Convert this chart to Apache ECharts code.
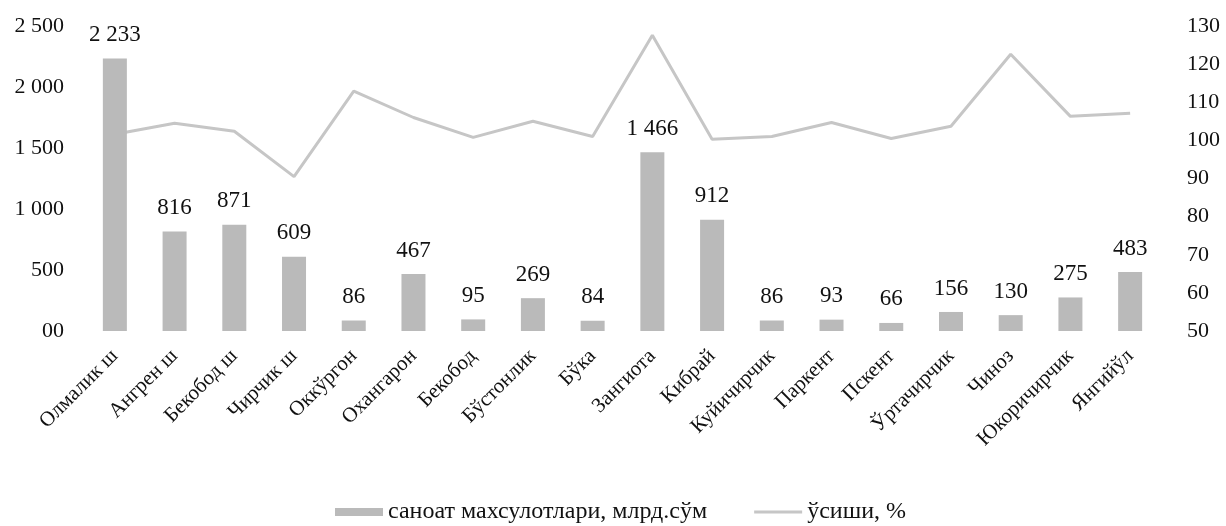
<!DOCTYPE html>
<html><head><meta charset="utf-8">
<script src="https://cdn.jsdelivr.net/npm/echarts@6/dist/echarts.min.js"></script>
<style>html,body{margin:0;padding:0;background:#fff}#c{width:1226px;height:526px}</style>
</head><body><div id="c"></div>
<script>
const categories = ['Олмалик ш','Ангрен ш','Бекобод ш','Чирчик ш','Оккўргон','Охангарон','Бекобод','Бўстонлик','Бўка','Зангиота','Кибрай','Куйичирчик','Паркент','Пскент','Ўртачирчик','Чиноз','Юкоричирчик','Янгийўл'];
const production = [2233,816,871,609,86,467,95,269,84,1466,912,86,93,66,156,130,275,483];
const growth = [101.6,104.5,102.4,90.5,112.9,106,100.8,105,101,127.6,100.3,101,104.7,100.5,103.7,122.6,106.3,107.1];
const seriesNames = ['саноат махсулотлари, млрд.сўм','ўсиши, %'];

const font = '"Liberation Serif","DejaVu Serif",serif';
const fmtNum = v => { if (v === 0) return '00'; const s = String(v); return s.length > 3 ? s.slice(0, s.length-3) + ' ' + s.slice(-3) : s; };

const chart = echarts.init(document.getElementById('c'));
chart.setOption({
  animation: false,
  textStyle: { fontFamily: font, color: '#111' },
  grid: { left: 85, right: 66, top: 26, height: 305 },
  legend: {
    top: 495, left: 330, itemGap: 47, itemWidth: 48, itemHeight: 8,
    textStyle: { fontFamily: font, fontSize: 24, color: '#111' },
    data: [
      { name: seriesNames[0], icon: 'rect' },
      { name: seriesNames[1], icon: 'path://M0,0 L48,0 L48,3 L0,3 Z' }
    ]
  },
  xAxis: {
    type: 'category', data: categories,
    axisLine: { show: false }, axisTick: { show: false },
    axisLabel: { rotate: 45, fontFamily: font, fontSize: 21, color: '#111', margin: 22, interval: 0 }
  },
  yAxis: [
    { type: 'value', min: 0, max: 2500, interval: 500, splitLine: { show: false },
      axisLine: { show: false }, axisTick: { show: false },
      axisLabel: { fontFamily: font, fontSize: 22, color: '#111', margin: 21, formatter: fmtNum } },
    { type: 'value', min: 50, max: 130, interval: 10, splitLine: { show: false },
      axisLine: { show: false }, axisTick: { show: false },
      axisLabel: { fontFamily: font, fontSize: 22, color: '#111', margin: 27 } }
  ],
  series: [
    { name: seriesNames[1], type: 'line', yAxisIndex: 1, data: growth, z: 1,
      symbol: 'none', lineStyle: { color: '#c6c6c6', width: 3 }, itemStyle: { color: '#c6c6c6' } },
    { name: seriesNames[0], type: 'bar', data: production, barWidth: 24, z: 2,
      itemStyle: { color: '#bababa' },
      label: { show: true, position: 'top', distance: 12, fontFamily: font, fontSize: 23, color: '#111', formatter: p => fmtNum(p.value) } }
  ]
});
</script></body></html>
